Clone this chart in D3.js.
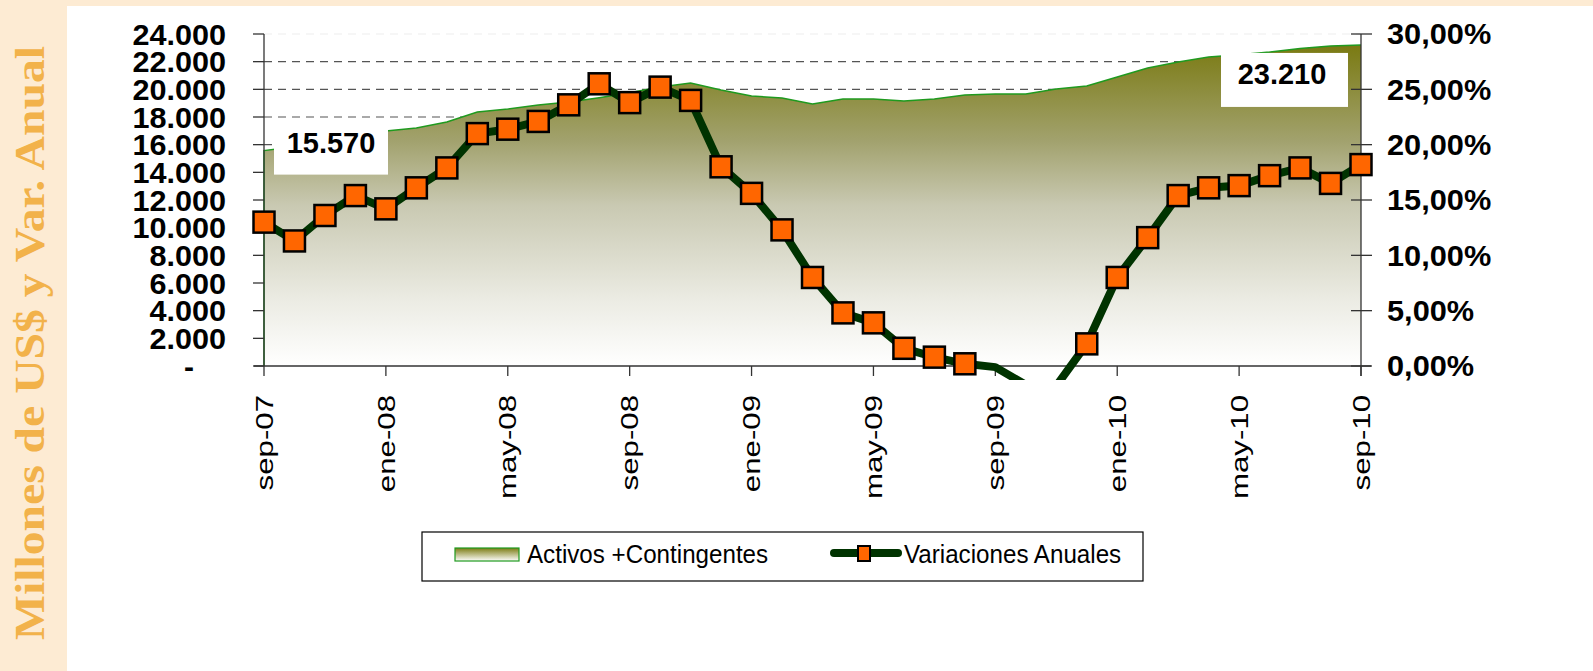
<!DOCTYPE html>
<html>
<head>
<meta charset="utf-8">
<script src="https://cdn.jsdelivr.net/npm/d3@7"></script>
<style>
  html, body { margin: 0; padding: 0; background: #ffffff; }
  #plot { width: 1593px; height: 671px; }
</style>
</head>
<body>
<div id="plot"></div>
<script>
// months, one point per month
var months = ["sep-07","oct-07","nov-07","dic-07","ene-08","feb-08","mar-08","abr-08","may-08","jun-08","jul-08","ago-08",
              "sep-08","oct-08","nov-08","dic-08","ene-09","feb-09","mar-09","abr-09","may-09","jun-09","jul-09","ago-09",
              "sep-09","oct-09","nov-09","dic-09","ene-10","feb-10","mar-10","abr-10","may-10","jun-10","jul-10","ago-10","sep-10"];
var tickMonths = ["sep-07","ene-08","may-08","sep-08","ene-09","may-09","sep-09","ene-10","may-10","sep-10"];

// Activos + Contingentes (millones US$)
var activos = [15570, 15850, 16150, 16500, 16990, 17200, 17640, 18360, 18580, 18870, 19080, 19400,
               19750, 20170, 20450, 19950, 19520, 19370, 18940, 19300, 19300, 19150, 19300, 19590,
               19660, 19660, 20020, 20240, 20890, 21540, 21970, 22330, 22500, 22700, 22950, 23130, 23210];

// Variaciones anuales (%)
var variaciones = [13.0, 11.3, 13.6, 15.4, 14.2, 16.1, 17.9, 21.0, 21.4, 22.1, 23.6, 25.5,
                   23.8, 25.2, 24.0, 18.0, 15.6, 12.3, 8.0, 4.8, 3.9, 1.6, 0.8, 0.2,
                   -0.1, -1.7, -1.8, 2.0, 8.0, 11.6, 15.4, 16.1, 16.3, 17.2, 17.9, 16.5, 18.2];

var leftTicks = [0, 2000, 4000, 6000, 8000, 10000, 12000, 14000, 16000, 18000, 20000, 22000, 24000];
var rightTicks = [0, 5, 10, 15, 20, 25, 30];
var gridTicks = [20000, 22000, 24000, 18000, 16000];
var labelMonths = ["sep-07", "sep-10"];
var legendNames = ["Activos +Contingentes", "Variaciones Anuales"];
var titleText = "Millones de US$ y Var. Anual";

var W = 1593, H = 671;
var m = {left: 264, right: 1361, top: 34, bottom: 366};

var svg = d3.select("#plot")
            .append("svg")
            .attr("width", W)
            .attr("height", H);

var locale = d3.formatLocale({decimal: ",", thousands: ".", grouping: [3], currency: ["$", ""]});
var fmtLeft = locale.format(",.0f"),
    fmtRight = locale.format(".2f");

var x = d3.scalePoint().domain(months).range([m.left, m.right]),
    yL = d3.scaleLinear().domain([0, 24000]).range([m.bottom, m.top]),
    yR = d3.scaleLinear().domain([0, 30]).range([m.bottom, m.top]);

// background
svg.append("rect").attr("x", 0).attr("y", 0).attr("width", W).attr("height", H).style("fill", "#fdebd3");
svg.append("rect").attr("x", 67).attr("y", 6).attr("width", W - 67).attr("height", H - 6).style("fill", "#ffffff");

// side title
svg.append("text")
    .attr("transform", "translate(44," + 343 + ") rotate(-90)")
    .attr("text-anchor", "middle")
    .attr("textLength", 594)
    .attr("lengthAdjust", "spacingAndGlyphs")
    .style("font-family", "'Liberation Serif', 'DejaVu Serif', serif")
    .style("font-weight", "bold")
    .style("font-size", "42px")
    .style("fill", "#f2b24a")
    .text(titleText);

var defs = svg.append("defs");
var grad = defs.append("linearGradient")
    .attr("id", "areaGrad")
    .attr("gradientUnits", "userSpaceOnUse")
    .attr("x1", 0).attr("y1", yL(d3.max(activos)))
    .attr("x2", 0).attr("y2", m.bottom);
[[0, "#7a7a12"], [0.3, "#a2a26e"], [0.5, "#c9c9b2"], [0.8, "#ececE4"], [1, "#ffffff"]].forEach(function(s){
    grad.append("stop").attr("offset", s[0]).attr("stop-color", s[1]);
});
var grad2 = defs.append("linearGradient")
    .attr("id", "legGrad").attr("x1", 0).attr("y1", 0).attr("x2", 0).attr("y2", 1);
grad2.append("stop").attr("offset", 0).attr("stop-color", "#7c7c14");
grad2.append("stop").attr("offset", 1).attr("stop-color", "#ffffff");

defs.append("clipPath").attr("id", "lineClip")
    .append("rect").attr("x", 0).attr("y", m.top - 20).attr("width", W).attr("height", m.bottom - m.top + 34);

// gridlines (under the area)
svg.selectAll(".grid")
    .data(gridTicks)
    .enter().append("line")
    .attr("class", "grid")
    .attr("x1", m.left).attr("x2", m.right)
    .attr("y1", function(d){ return yL(d); })
    .attr("y2", function(d){ return yL(d); })
    .style("stroke", function(d){ return d == 24000 ? "#eeeeee" : "#555555"; })
    .style("stroke-width", 1.2)
    .style("stroke-dasharray", "8,6");

// area
var area = d3.area()
    .x(function(d, i){ return x(months[i]); })
    .y0(m.bottom)
    .y1(function(d){ return yL(d); });
svg.append("path")
    .datum(activos)
    .attr("d", area)
    .style("fill", "url(#areaGrad)")
    .style("stroke", "none");
var edge = d3.line()
    .x(function(d, i){ return x(months[i]); })
    .y(function(d){ return yL(d); });
svg.append("path")
    .attr("d", "M" + m.left + "," + m.bottom + "L" + edge(activos).slice(1))
    .style("fill", "none")
    .style("stroke", "#1f9a1f")
    .style("stroke-width", 1.5);

// value labels
var lab = svg.append("g");
labelMonths.forEach(function(mo, k){
    var i = months.indexOf(mo), px = x(mo), py = yL(activos[i]);
    var bx = k == 0 ? px + 10 : px - 140,
        by = k == 0 ? py - 32 : py + 8,
        bw = k == 0 ? 114 : 127,
        bh = k == 0 ? 56 : 54;
    lab.append("rect").attr("x", bx).attr("y", by).attr("width", bw).attr("height", bh).style("fill", "#ffffff");
    lab.append("text")
        .attr("x", k == 0 ? px + 67 : px - 79)
        .attr("y", k == 0 ? py + 2 : py + 39)
        .attr("text-anchor", "middle")
        .style("font-family", "'Liberation Sans', Arial, sans-serif")
        .style("font-weight", "bold")
        .style("font-size", "29px")
        .text(fmtLeft(activos[i]));
});

// axes
var axisG = svg.append("g").style("stroke", "#333333").style("stroke-width", 1.3);
axisG.append("line").attr("x1", m.left).attr("x2", m.left).attr("y1", m.top).attr("y2", m.bottom);
axisG.append("line").attr("x1", m.right).attr("x2", m.right).attr("y1", m.top).attr("y2", m.bottom + 10);
axisG.append("line").attr("x1", m.left - 10).attr("x2", m.right + 10).attr("y1", m.bottom).attr("y2", m.bottom);
axisG.selectAll(".tl").data(leftTicks).enter().append("line")
    .attr("x1", m.left - 11).attr("x2", m.left)
    .attr("y1", function(d){ return yL(d); }).attr("y2", function(d){ return yL(d); });
axisG.selectAll(".tr").data(rightTicks).enter().append("line")
    .attr("x1", m.right - 10).attr("x2", m.right + 11)
    .attr("y1", function(d){ return yR(d); }).attr("y2", function(d){ return yR(d); });
axisG.selectAll(".tx").data(tickMonths).enter().append("line")
    .attr("x1", function(d){ return x(d); }).attr("x2", function(d){ return x(d); })
    .attr("y1", m.bottom).attr("y2", m.bottom + 10);

// left labels; the zero is shown as a dash, placed like the accounting format does
svg.selectAll(".ylab").data(leftTicks).enter().append("text")
    .attr("transform", function(d){
        return d == 0 ? "translate(189," + yL(d) + ")"
                      : "translate(" + (m.left - 38) + "," + yL(d) + ") scale(1.02,1)";
    })
    .attr("dy", "0.36em")
    .attr("text-anchor", function(d){ return d == 0 ? "middle" : "end"; })
    .style("font-family", "'Liberation Sans', Arial, sans-serif")
    .style("font-weight", "bold")
    .style("font-size", "30px")
    .text(function(d){ return d == 0 ? "-" : fmtLeft(d); });

svg.selectAll(".rlab").data(rightTicks).enter().append("text")
    .attr("transform", function(d){ return "translate(" + (m.right + 26) + "," + yR(d) + ") scale(1.06,1)"; })
    .attr("dy", "0.36em")
    .style("font-family", "'Liberation Sans', Arial, sans-serif")
    .style("font-weight", "bold")
    .style("font-size", "29px")
    .text(function(d){ return fmtRight(d) + "%"; });

svg.selectAll(".xlab").data(tickMonths).enter().append("text")
    .attr("transform", function(d){ return "translate(" + x(d) + "," + (m.bottom + 29) + ") rotate(-90) scale(1.3,1)"; })
    .attr("dy", "0.36em")
    .attr("text-anchor", "end")
    .style("font-family", "'Liberation Sans', Arial, sans-serif")
    .style("font-size", "24px")
    .text(function(d){ return d; });

// line series
var lineG = svg.append("g").attr("clip-path", "url(#lineClip)");
var line = d3.line()
    .x(function(d, i){ return x(months[i]); })
    .y(function(d){ return yR(d); });
lineG.append("path")
    .datum(variaciones)
    .attr("d", line)
    .style("fill", "none")
    .style("stroke", "#003300")
    .style("stroke-width", 8)
    .style("stroke-linejoin", "round");

var ms = 21;
svg.selectAll(".mk")
    .data(variaciones.map(function(v, i){ return {m: months[i], v: v}; }).filter(function(d){ return d.v >= 0; }))
    .enter().append("rect")
    .attr("class", "mk")
    .attr("x", function(d){ return x(d.m) - ms / 2; })
    .attr("y", function(d){ return yR(d.v) - ms / 2; })
    .attr("width", ms).attr("height", ms)
    .style("fill", "#ff6600")
    .style("stroke", "#000000")
    .style("stroke-width", 2.5);

// legend
var leg = svg.append("g");
leg.append("rect").attr("x", 422).attr("y", 532).attr("width", 721).attr("height", 49)
    .style("fill", "#ffffff").style("stroke", "#000000").style("stroke-width", 1.2);
leg.append("rect").attr("x", 455).attr("y", 548).attr("width", 64).attr("height", 13)
    .style("fill", "url(#legGrad)").style("stroke", "#1f9a1f").style("stroke-width", 1.2);
leg.append("line").attr("x1", 834).attr("x2", 898).attr("y1", 553).attr("y2", 553)
    .style("stroke", "#003300").style("stroke-width", 8).style("stroke-linecap", "round");
leg.append("rect").attr("x", 858).attr("y", 546).attr("width", 12).attr("height", 15)
    .style("fill", "#ff6600").style("stroke", "#000000").style("stroke-width", 2);
leg.selectAll(".lt").data(legendNames).enter().append("text")
    .attr("transform", function(d, i){ return "translate(" + (i == 0 ? 527 : 904) + ",563) scale(0.93,1)"; })
    .style("font-family", "'Liberation Sans', Arial, sans-serif")
    .style("font-size", "26px")
    .text(function(d){ return d; });
</script>
</body>
</html>
